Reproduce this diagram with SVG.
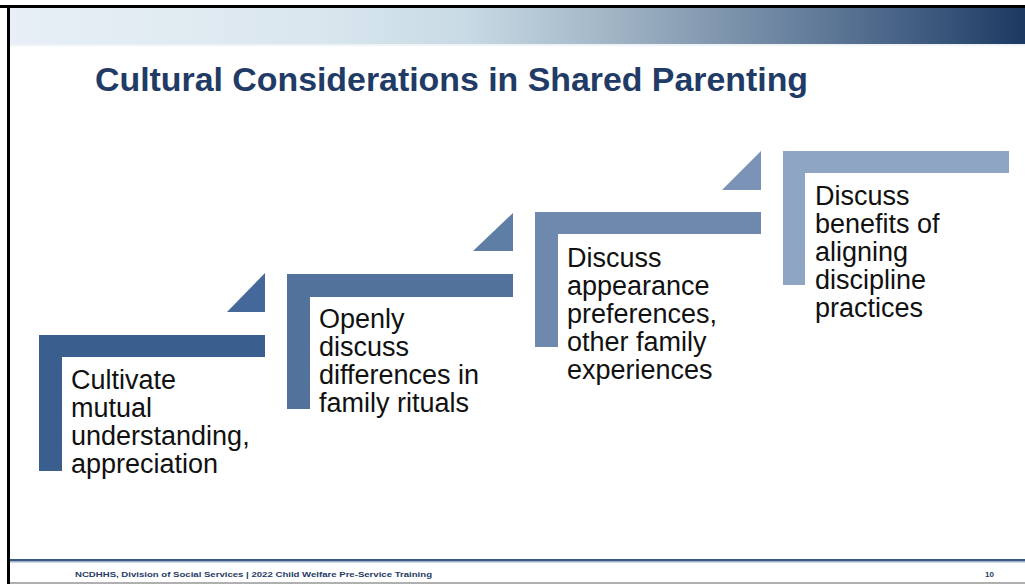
<svg xmlns="http://www.w3.org/2000/svg" width="1025" height="584" viewBox="0 0 1025 584">
<defs>
<linearGradient id="hdr" x1="0" y1="0" x2="1" y2="0">
<stop offset="0" stop-color="#e8eff6"/>
<stop offset="0.3" stop-color="#dae7ef"/>
<stop offset="0.45" stop-color="#c8dae4"/>
<stop offset="0.6" stop-color="#9fb3c4"/>
<stop offset="0.75" stop-color="#7088a3"/>
<stop offset="0.9" stop-color="#3f5c80"/>
<stop offset="1" stop-color="#1b3861"/>
</linearGradient>
<style>
.body{font-family:"Liberation Sans",Arial,sans-serif;font-size:27px;fill:#111}
.title{font-family:"Liberation Sans",Arial,sans-serif;font-size:33px;font-weight:bold;fill:#1f3b66}
.foot{font-family:"Liberation Sans",Arial,sans-serif;font-size:8px;font-weight:bold;fill:#1f3b66}
</style>
</defs>
<rect x="0" y="0" width="1025" height="584" fill="#fff"/>
<rect x="9" y="8" width="1016" height="37" fill="url(#hdr)"/>
<rect x="9" y="44" width="1016" height="2" fill="#eef3f7"/>
<rect x="0" y="5" width="1025" height="3" fill="#000"/>
<rect x="7" y="5" width="3" height="579" fill="#000"/>
<rect x="10" y="582" width="1015" height="2" fill="#b0b0b0"/>
<text class="title" x="95" y="91" textLength="713" lengthAdjust="spacingAndGlyphs">Cultural Considerations in Shared Parenting</text>
<g id="step1">
<path d="M39 335H265V357H62V471H39Z" fill="#3a5e8e"/>
<polygon points="227,312 265,312 265,273" fill="#44689a"/>
<text class="body"><tspan x="71" y="389">Cultivate</tspan><tspan x="71" y="417">mutual</tspan><tspan x="71" y="445">understanding,</tspan><tspan x="71" y="473">appreciation</tspan></text>
</g>
<g id="step2">
<path d="M287 274H513V297H310V409H287Z" fill="#52729c"/>
<polygon points="473,251 513,251 513,213" fill="#5f7ea6"/>
<text class="body"><tspan x="319" y="328">Openly</tspan><tspan x="319" y="356">discuss</tspan><tspan x="319" y="384">differences in</tspan><tspan x="319" y="412">family rituals</tspan></text>
</g>
<g id="step3">
<path d="M535 212H761V234H558V347H535Z" fill="#6f89ae"/>
<polygon points="722,190 761,190 761,151" fill="#7a93b6"/>
<text class="body"><tspan x="567" y="267">Discuss</tspan><tspan x="567" y="295">appearance</tspan><tspan x="567" y="323">preferences,</tspan><tspan x="567" y="351">other family</tspan><tspan x="567" y="379">experiences</tspan></text>
</g>
<g id="step4">
<path d="M783 151H1009V173H805V285H783Z" fill="#8ea5c3"/>
<text class="body"><tspan x="815" y="205">Discuss</tspan><tspan x="815" y="233">benefits of</tspan><tspan x="815" y="261">aligning</tspan><tspan x="815" y="289">discipline</tspan><tspan x="815" y="317">practices</tspan></text>
</g>
<g id="footer">
<rect x="10" y="559" width="1015" height="2" fill="#3a5a82"/>
<rect x="10" y="561" width="1015" height="1.5" fill="#9fb2c8"/>
<text class="foot" x="75" y="577" textLength="357" lengthAdjust="spacingAndGlyphs">NCDHHS, Division of Social  Services | 2022 Child Welfare Pre-Service Training</text>
<text class="foot" x="985" y="577">10</text>
</g>
</svg>
